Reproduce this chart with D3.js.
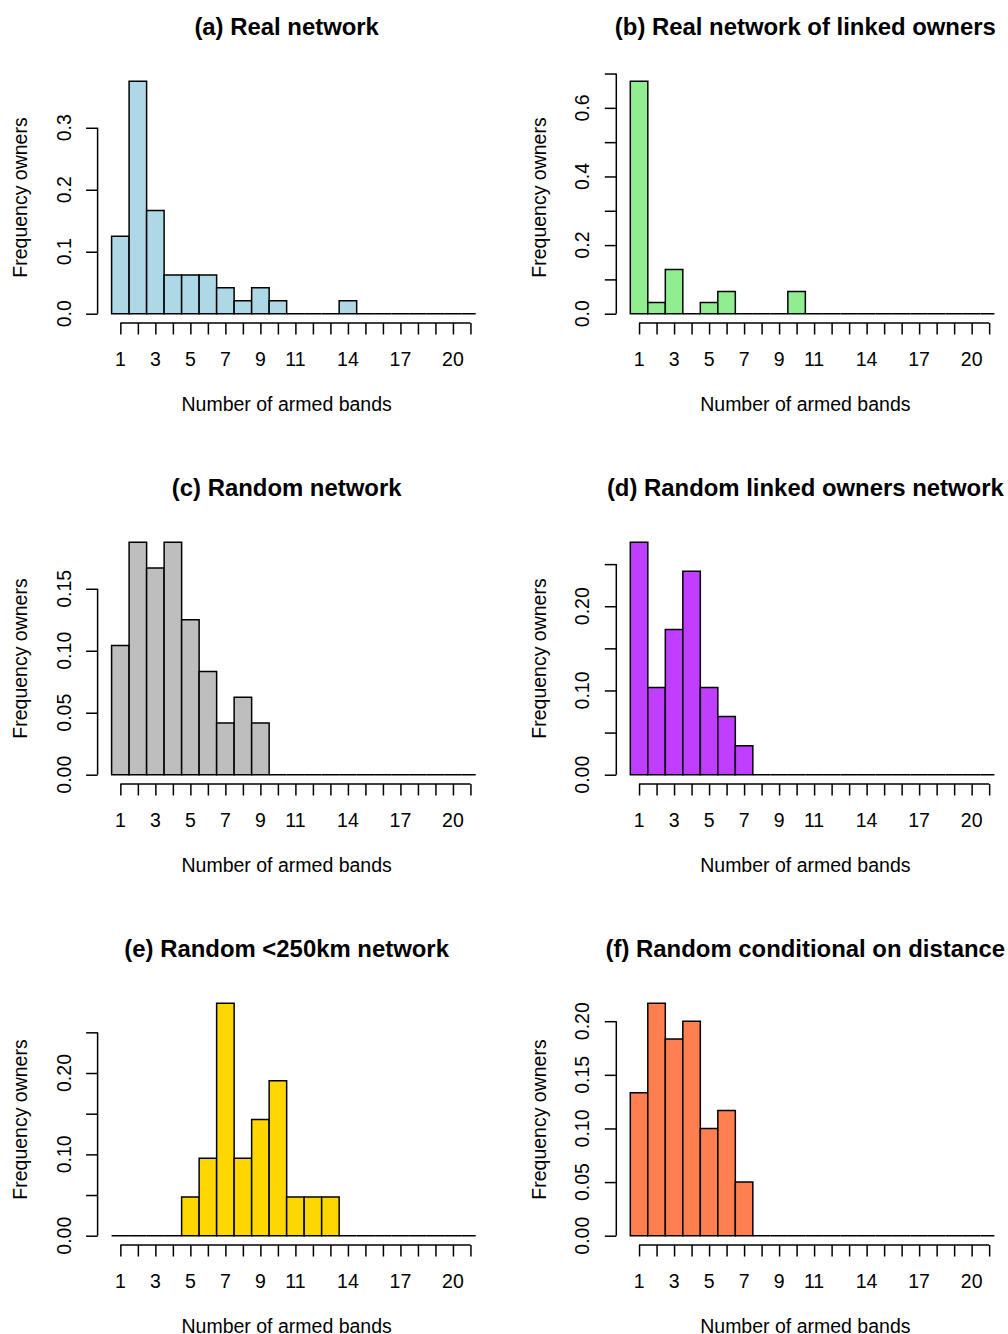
<!DOCTYPE html>
<html><head><meta charset="utf-8">
<script src="https://cdn.jsdelivr.net/npm/d3@7"></script>
<style>
body{margin:0;background:#fff}
svg{display:block}
text{font-family:"Liberation Sans",Arial,Helvetica,sans-serif;fill:#000}
</style>
</head><body>
<svg id="chart" width="1008" height="1334"></svg>
<script>
// ---- data ----
const bands = [1,2,3,4,5,6,7,8,9,10,11,12,13,14,15,16,17,18,19,20,21];
const xTickLabels = [1,3,5,7,9,11,14,17,20];
const titles = [
  "(a) Real network",
  "(b) Real network of linked owners",
  "(c) Random network",
  "(d) Random linked owners network",
  "(e) Random <250km network",
  "(f) Random conditional on distance"
];
const fills = ["#ADD8E6","#90EE90","#BEBEBE","#BF3EFF","#FFD700","#FF7F50"];

const freqRealNetwork      = [0.125,0.375,0.1667,0.0625,0.0625,0.0625,0.0417,0.0208,0.0417,0.0208,0,0,0,0.0208,0,0,0,0,0,0,0];
const freqRealLinked       = [0.6774,0.0323,0.129,0,0.0323,0.0645,0,0,0,0.0645,0,0,0,0,0,0,0,0,0,0,0];
const freqRandomNetwork    = [0.1042,0.1875,0.1667,0.1875,0.125,0.0833,0.0417,0.0625,0.0417,0,0,0,0,0,0,0,0,0,0,0,0];
const freqRandomLinked     = [0.2759,0.1034,0.1724,0.2414,0.1034,0.069,0.0345,0,0,0,0,0,0,0,0,0,0,0,0,0,0];
const freqRandom250        = [0,0,0,0,0.0476,0.0952,0.2857,0.0952,0.1429,0.1905,0.0476,0.0476,0.0476,0,0,0,0,0,0,0,0];
const freqRandomConditional= [0.1333,0.2167,0.1833,0.2,0.1,0.1167,0.05,0,0,0,0,0,0,0,0,0,0,0,0,0,0];

const yTicksA = [0,0.1,0.2,0.3];            const yLabelsA = ["0.0","0.1","0.2","0.3"];
const yTicksB = [0,0.1,0.2,0.3,0.4,0.5,0.6,0.7]; const yLabelsB = ["0.0","","0.2","","0.4","","0.6",""];
const yTicksC = [0,0.05,0.10,0.15];         const yLabelsC = ["0.00","0.05","0.10","0.15"];
const yTicksD = [0,0.05,0.10,0.15,0.20,0.25]; const yLabelsD = ["0.00","","0.10","","0.20",""];
const yTicksE = [0,0.05,0.10,0.15,0.20,0.25]; const yLabelsE = ["0.00","","0.10","","0.20",""];
const yTicksF = [0,0.05,0.10,0.15,0.20];    const yLabelsF = ["0.00","0.05","0.10","0.15","0.20"];

const xLabel = "Number of armed bands";
const yLabel = "Frequency owners";

const panels = [
  {freq: freqRealNetwork,       ticks: yTicksA, labels: yLabelsA},
  {freq: freqRealLinked,        ticks: yTicksB, labels: yLabelsB},
  {freq: freqRandomNetwork,     ticks: yTicksC, labels: yLabelsC},
  {freq: freqRandomLinked,      ticks: yTicksD, labels: yLabelsD},
  {freq: freqRandom250,         ticks: yTicksE, labels: yLabelsE},
  {freq: freqRandomConditional, ticks: yTicksF, labels: yLabelsF}
];

// ---- layout ----
const svg = d3.select("#chart");
const colStep = 518.7, rowStep = 461;
const plotLeft0 = 97.6, plotRight0 = 475.7, plotTop0 = 72, plotBottom0 = 323;
const tickLen = 11.5;
const axisFont = 19.5, titleFont = 23.9;
const lw = 1.5;

panels.forEach((p, i) => {
  const col = i % 2, row = Math.floor(i / 2);
  const L = plotLeft0 + col*colStep, R = plotRight0 + col*colStep;
  const T = plotTop0 + row*rowStep,  B = plotBottom0 + row*rowStep;
  const cx = (L + R) / 2, cy = (T + B) / 2;

  const x = d3.scaleLinear().domain([-0.3, 21.3]).range([L, R]);
  const maxF = d3.max(p.freq);
  const y = d3.scaleLinear().domain([-0.04*maxF, 1.04*maxF]).range([B, T]);

  const g = svg.append("g");
  const clipId = "clip" + i;
  svg.append("clipPath").attr("id", clipId)
    .append("rect").attr("x", L).attr("y", T - 2).attr("width", R - L).attr("height", B - T + 4);

  // bars (paths so that empty bins still show as a flat line)
  g.append("g").attr("clip-path", `url(#${clipId})`)
    .selectAll("path").data(bands).join("path")
    .attr("d", (b, k) => {
      const x0 = x(b - 0.5), x1 = x(b + 0.5), y0 = y(0), y1 = y(p.freq[k]);
      return `M${x0},${y0}V${y1}H${x1}V${y0}Z`;
    })
    .attr("fill", fills[i])
    .attr("stroke", "#000")
    .attr("stroke-width", lw)
    .attr("stroke-linejoin", "miter");

  // x axis
  const xa = g.append("g").attr("transform", `translate(0,${B})`)
    .call(d3.axisBottom(x).tickValues(bands).tickSize(tickLen).tickFormat(""));
  xa.select(".domain").attr("d", `M${x(bands[0])},0H${x(bands[bands.length-1])}`)
    .attr("stroke-width", lw);
  xa.selectAll(".tick line").attr("stroke-width", lw);
  g.selectAll(".xl").data(xTickLabels).join("text")
    .attr("x", d => x(d)).attr("y", B + 42.5)
    .attr("text-anchor", "middle").attr("font-size", axisFont)
    .text(d => d);

  // y axis
  const ya = g.append("g").attr("transform", `translate(${L},0)`)
    .call(d3.axisLeft(y).tickValues(p.ticks).tickSize(tickLen).tickFormat(""));
  ya.select(".domain").attr("d", `M0,${y(p.ticks[0])}V${y(p.ticks[p.ticks.length-1])}`)
    .attr("stroke-width", lw);
  ya.selectAll(".tick line").attr("stroke-width", lw);
  p.ticks.forEach((t, k) => {
    if (!p.labels[k]) return;
    g.append("text")
      .attr("transform", `translate(${L - 27},${y(t)}) rotate(-90)`)
      .attr("text-anchor", "middle").attr("font-size", axisFont)
      .text(p.labels[k]);
  });

  // axis titles
  g.append("text").attr("x", cx).attr("y", B + 87.5)
    .attr("text-anchor", "middle").attr("font-size", axisFont).text(xLabel);
  g.append("text")
    .attr("transform", `translate(${L - 70.6},${cy}) rotate(-90)`)
    .attr("text-anchor", "middle").attr("font-size", axisFont).text(yLabel);

  // main title
  g.append("text").attr("x", cx).attr("y", T - 37.5)
    .attr("text-anchor", "middle").attr("font-size", titleFont)
    .attr("font-weight", "bold").text(titles[i]);
});
</script>
</body></html>
